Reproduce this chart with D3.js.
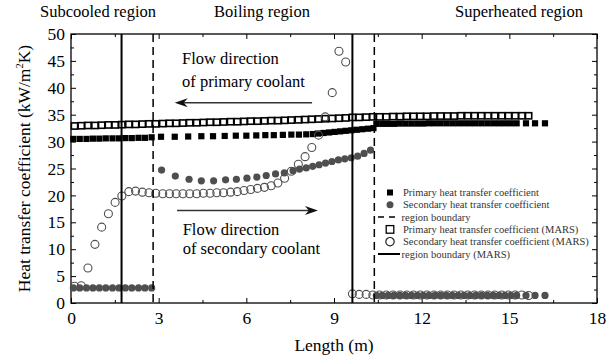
<!DOCTYPE html>
<html>
<head>
<meta charset="utf-8">
<script src="https://cdn.jsdelivr.net/npm/d3@7"></script>
<style>
  body { margin: 0; background: #fff; }
  text { font-family: "Liberation Serif", "Times New Roman", serif; }
</style>
</head>
<body>
<svg id="chart" width="610" height="360"></svg>
<script>
// ---- data ----
const xTicks = [0, 3, 6, 9, 12, 15, 18]
const xMinorTicks = [1.5, 4.5, 7.5, 10.5, 13.5, 16.5]
const yTicks = [0, 5, 10, 15, 20, 25, 30, 35, 40, 45, 50]
const yMinorTicks = [2.5, 7.5, 12.5, 17.5, 22.5, 27.5, 32.5, 37.5, 42.5, 47.5]

// code nodes, subcooled region
const subX = [0.08, 0.30, 0.53, 0.75, 0.97, 1.19, 1.42, 1.64, 1.86, 2.08, 2.31, 2.53, 2.76]
const subPrimary = [30.5, 30.5, 30.5, 30.55, 30.55, 30.6, 30.6, 30.6, 30.65, 30.65, 30.7, 30.7, 30.8]
const subSecondary = [2.8, 2.8, 2.8, 2.8, 2.8, 2.8, 2.8, 2.8, 2.8, 2.8, 2.8, 2.8, 2.8]

// code nodes, boiling region
const boilPrimaryX = [3.08, 3.55, 4.01, 4.46, 4.86, 5.26, 5.64, 6.00, 6.34, 6.65, 6.94, 7.25, 7.54, 7.80, 8.05, 8.28,
  8.45, 8.64, 8.83, 9.02, 9.21, 9.40, 9.59, 9.78, 9.97, 10.16, 10.35]
const boilPrimary = [30.9, 30.9, 30.95, 31.0, 31.0, 31.05, 31.1, 31.1, 31.15, 31.2, 31.2, 31.25, 31.3, 31.3, 31.35, 31.4,
  31.5, 31.6, 31.7, 31.8, 31.9, 32.0, 32.1, 32.2, 32.3, 32.4, 32.5]
const boilSecondaryX = [3.10, 3.57, 4.04, 4.46, 4.88, 5.29, 5.66, 6.02, 6.36, 6.68, 7.00, 7.30, 7.60, 7.82,
  8.05, 8.27, 8.49, 8.71, 8.93, 9.15, 9.37, 9.59, 9.81, 10.03, 10.25]
const boilSecondary = [24.7, 23.6, 23.0, 22.7, 22.7, 22.9, 23.0, 23.2, 23.4, 23.7, 24.0, 24.2, 24.6, 24.9,
  25.1, 25.4, 25.7, 26.0, 26.3, 26.6, 26.8, 27.0, 27.3, 27.8, 28.4]

// code nodes, superheated region
const supX = [10.45, 10.65, 10.85, 11.05, 11.25, 11.45, 11.65, 11.85, 12.05, 12.25, 12.45, 12.65, 12.85,
  13.05, 13.25, 13.45, 13.65, 13.85, 14.05, 14.25, 14.45, 14.65, 14.85, 15.05, 15.25, 15.57, 15.88, 16.22]
const supPrimary = [33.3, 33.3, 33.3, 33.3, 33.35, 33.35, 33.35, 33.35, 33.35, 33.4, 33.4, 33.4, 33.4,
  33.4, 33.4, 33.4, 33.4, 33.4, 33.4, 33.4, 33.4, 33.4, 33.4, 33.4, 33.4, 33.4, 33.4, 33.4]
const supSecondary = [1.4, 1.4, 1.4, 1.4, 1.4, 1.4, 1.4, 1.4, 1.4, 1.4, 1.4, 1.4, 1.4,
  1.4, 1.4, 1.4, 1.4, 1.4, 1.4, 1.4, 1.4, 1.4, 1.4, 1.4, 1.4, 1.4, 1.4, 1.4]

// MARS nodes
const marsX = [0.12, 0.35, 0.58, 0.82, 1.05, 1.28, 1.51, 1.74, 1.98, 2.21, 2.44, 2.67, 2.90,
  3.14, 3.37, 3.60, 3.83, 4.06, 4.30, 4.53, 4.76, 4.99, 5.22, 5.46, 5.69, 5.92,
  6.15, 6.38, 6.62, 6.85, 7.08, 7.31, 7.54, 7.78, 8.01, 8.24, 8.47, 8.70, 8.94, 9.17, 9.40,
  9.63, 9.86, 10.10, 10.33, 10.56, 10.79, 11.02, 11.26, 11.49, 11.72, 11.95, 12.18, 12.42, 12.65,
  12.88, 13.11, 13.34, 13.58, 13.81, 14.04, 14.27, 14.50, 14.74, 14.97, 15.20, 15.43, 15.66]
const marsPrimary = [32.9, 32.95, 33.0, 33.0, 33.05, 33.1, 33.1, 33.15, 33.2, 33.2, 33.25, 33.3, 33.3,
  33.35, 33.4, 33.4, 33.45, 33.5, 33.5, 33.55, 33.6, 33.6, 33.65, 33.7, 33.7, 33.75,
  33.8, 33.8, 33.85, 33.9, 33.9, 33.95, 34.0, 34.05, 34.1, 34.15, 34.2, 34.25, 34.3, 34.35, 34.4,
  34.5, 34.5, 34.55, 34.6, 34.6, 34.6, 34.65, 34.65, 34.7, 34.7, 34.7, 34.7, 34.75, 34.75,
  34.75, 34.75, 34.8, 34.8, 34.8, 34.8, 34.8, 34.8, 34.8, 34.8, 34.8, 34.8, 34.8]
const marsSecondary = [3.1, 3.2, 6.5, 10.9, 14.1, 16.6, 18.7, 19.9, 20.7, 20.8, 20.6, 20.5, 20.4,
  20.3, 20.3, 20.3, 20.3, 20.3, 20.3, 20.4, 20.4, 20.5, 20.5, 20.6, 20.7, 20.9,
  21.1, 21.3, 21.5, 21.8, 22.3, 23.2, 24.5, 25.8, 27.2, 28.9, 31.2, 34.6, 39.1, 46.8, 44.8,
  1.7, 1.6, 1.6, 1.5, 1.5, 1.5, 1.5, 1.5, 1.5, 1.5, 1.5, 1.5, 1.5, 1.5,
  1.5, 1.5, 1.5, 1.5, 1.5, 1.5, 1.5, 1.5, 1.5, 1.5, 1.5, 1.5, 1.4]

const codeBounds = [2.81, 10.38]
const marsBounds = [1.73, 9.63]

const regionLabels = [
  { text: 'Subcooled region', x: 98 },
  { text: 'Boiling region', x: 262 },
  { text: 'Superheated region', x: 519 },
]

const legendItems = [
  { kind: 'fsq', label: 'Primary heat transfer coefficient' },
  { kind: 'fci', label: 'Secondary heat transfer coefficient' },
  { kind: 'dash', label: 'region boundary' },
  { kind: 'osq', label: 'Primary heat transfer coefficient (MARS)' },
  { kind: 'oci', label: 'Secondary heat transfer coefficient (MARS)' },
  { kind: 'line', label: 'region boundary (MARS)' },
]

// ---- layout ----
const plot = { left: 71, right: 597, top: 34, bottom: 303 }
const grey = '#4f4f4f'
const svg = d3.select('#chart')

const x = d3.scaleLinear().domain([0, 18]).range([plot.left, plot.right])
const y = d3.scaleLinear().domain([0, 50]).range([plot.bottom, plot.top])

const zip = (xs, ys) => xs.map((v, i) => [v, ys[i]])

const primaryPts = [...zip(subX, subPrimary), ...zip(boilPrimaryX, boilPrimary), ...zip(supX, supPrimary)]
const secondaryPts = [...zip(subX, subSecondary), ...zip(boilSecondaryX, boilSecondary), ...zip(supX, supSecondary)]
const marsPrimaryPts = zip(marsX, marsPrimary)
const marsSecondaryPts = zip(marsX, marsSecondary)

// axes, ticks inward
const tickFont = (g) => g.selectAll('text')
  .attr('font-family', '"Liberation Serif", serif').attr('font-size', 17.5).attr('fill', '#000')

function clean(g) {
  g.select('.domain').remove()
  g.selectAll('line').attr('stroke', '#000').attr('stroke-width', 1)
}

svg.append('g').attr('transform', `translate(0,${plot.bottom})`)
  .call(d3.axisBottom(x).tickValues(xTicks).tickSize(-5).tickPadding(9).tickFormat(d3.format('d')))
  .call(clean).call(tickFont)
svg.append('g').attr('transform', `translate(0,${plot.bottom})`)
  .call(d3.axisBottom(x).tickValues(xMinorTicks).tickSize(-3).tickFormat(''))
  .call(clean)
svg.append('g').attr('transform', `translate(0,${plot.top})`)
  .call(d3.axisTop(x).tickValues(xTicks).tickSize(-5).tickFormat(''))
  .call(clean)
svg.append('g').attr('transform', `translate(0,${plot.top})`)
  .call(d3.axisTop(x).tickValues(xMinorTicks).tickSize(-3).tickFormat(''))
  .call(clean)

svg.append('g').attr('transform', `translate(${plot.left},0)`)
  .call(d3.axisLeft(y).tickValues(yTicks).tickSize(-5).tickPadding(6).tickFormat(d3.format('d')))
  .call(clean).call(tickFont)
svg.append('g').attr('transform', `translate(${plot.left},0)`)
  .call(d3.axisLeft(y).tickValues(yMinorTicks).tickSize(-3).tickFormat(''))
  .call(clean)
svg.append('g').attr('transform', `translate(${plot.right},0)`)
  .call(d3.axisRight(y).tickValues(yTicks).tickSize(-5).tickFormat(''))
  .call(clean)
svg.append('g').attr('transform', `translate(${plot.right},0)`)
  .call(d3.axisRight(y).tickValues(yMinorTicks).tickSize(-3).tickFormat(''))
  .call(clean)

svg.append('rect')
  .attr('x', plot.left).attr('y', plot.top)
  .attr('width', plot.right - plot.left).attr('height', plot.bottom - plot.top)
  .attr('fill', 'none').attr('stroke', '#000').attr('stroke-width', 1.3)

// ---- markers ----
const sq = 6.2
svg.append('g').selectAll('rect').data(primaryPts).join('rect')
  .attr('x', (d) => x(d[0]) - sq / 2).attr('y', (d) => y(d[1]) - sq / 2)
  .attr('width', sq).attr('height', sq).attr('fill', '#000')

const osq = 6.2
svg.append('g').selectAll('rect').data(marsPrimaryPts).join('rect')
  .attr('x', (d) => x(d[0]) - osq / 2).attr('y', (d) => y(d[1]) - osq / 2)
  .attr('width', osq).attr('height', osq)
  .attr('fill', '#fff').attr('stroke', '#000').attr('stroke-width', 1.6)

svg.append('g').selectAll('circle').data(secondaryPts).join('circle')
  .attr('cx', (d) => x(d[0])).attr('cy', (d) => y(d[1])).attr('r', 3.6)
  .attr('fill', grey)

svg.append('g').selectAll('circle').data(marsSecondaryPts).join('circle')
  .attr('cx', (d) => x(d[0])).attr('cy', (d) => y(d[1])).attr('r', 4)
  .attr('fill', 'none').attr('stroke', grey).attr('stroke-width', 1.1)

// ---- region boundaries ----
svg.append('g').selectAll('line').data(codeBounds).join('line')
  .attr('x1', (d) => x(d)).attr('x2', (d) => x(d)).attr('y1', plot.top).attr('y2', plot.bottom)
  .attr('stroke', '#000').attr('stroke-width', 1.5).attr('stroke-dasharray', '8,5')
svg.append('g').selectAll('line').data(marsBounds).join('line')
  .attr('x1', (d) => x(d)).attr('x2', (d) => x(d)).attr('y1', plot.top).attr('y2', plot.bottom)
  .attr('stroke', '#000').attr('stroke-width', 2)

// ---- annotations ----
function arrow(x1, x2, yv) {
  const g = svg.append('g')
  const px1 = x(x1), px2 = x(x2), py = y(yv)
  const dir = Math.sign(px2 - px1)
  g.append('line').attr('x1', px1).attr('x2', px2 - dir * 6).attr('y1', py).attr('y2', py)
    .attr('stroke', '#333').attr('stroke-width', 1.5)
  g.append('path')
    .attr('d', `M${px2},${py} L${px2 - dir * 13},${py - 4.5} L${px2 - dir * 9},${py} L${px2 - dir * 13},${py + 4.5} Z`)
    .attr('fill', '#111')
}
arrow(8.25, 3.55, 37.2)
arrow(3.63, 8.45, 17.2)

const note = svg.append('g').attr('font-size', 16.5).attr('fill', '#000')
note.append('text').attr('x', x(3.8)).attr('y', 64).text('Flow direction')
note.append('text').attr('x', x(3.8)).attr('y', 87).text('of primary coolant')
note.append('text').attr('x', x(3.82)).attr('y', 235).text('Flow direction')
note.append('text').attr('x', x(3.82)).attr('y', 254).text('of secondary coolant')

svg.append('g').selectAll('text').data(regionLabels).join('text')
  .attr('x', (d) => d.x).attr('y', 16.5).attr('text-anchor', 'middle')
  .attr('font-size', 16.5).text((d) => d.text)

// axis titles
svg.append('text').attr('x', (plot.left + plot.right) / 2).attr('y', 351).attr('text-anchor', 'middle')
  .attr('font-size', 17.5).text('Length (m)')
const yt = svg.append('text').attr('transform', `translate(30,${(plot.top + plot.bottom) / 2}) rotate(-90)`)
  .attr('text-anchor', 'middle').attr('font-size', 17.5)
yt.append('tspan').text('Heat transfer coefficient (kW/m')
yt.append('tspan').attr('font-size', 10.5).attr('dy', -7).text('2')
yt.append('tspan').attr('dy', 7).text('K)')

// ---- legend ----
const legend = svg.append('g').attr('transform', 'translate(390,192.5)')
const row = legend.selectAll('g').data(legendItems).join('g')
  .attr('transform', (d, i) => `translate(0,${i * 12.3})`)
row.each(function (d) {
  const g = d3.select(this)
  if (d.kind === 'fsq') g.append('rect').attr('x', -3).attr('y', -3).attr('width', 6).attr('height', 6).attr('fill', '#000')
  if (d.kind === 'fci') g.append('circle').attr('r', 3.5).attr('fill', grey)
  if (d.kind === 'osq') g.append('rect').attr('x', -3.8).attr('y', -3.8).attr('width', 7.6).attr('height', 7.6)
    .attr('fill', '#fff').attr('stroke', '#000').attr('stroke-width', 1.3)
  if (d.kind === 'oci') g.append('circle').attr('r', 4.2).attr('fill', '#fff').attr('stroke', '#222').attr('stroke-width', 1.2)
  if (d.kind === 'dash') g.append('line').attr('x1', -12).attr('x2', 10).attr('stroke', '#000')
    .attr('stroke-width', 1.5).attr('stroke-dasharray', '6,5')
  if (d.kind === 'line') g.append('line').attr('x1', -12).attr('x2', 10).attr('stroke', '#000').attr('stroke-width', 2)
  g.append('text').attr('x', (d.kind === 'dash' || d.kind === 'line') ? 11.5 : 13)
    .attr('y', 3.6).attr('font-size', 10.5).attr('fill', '#333').text(d.label)
})
</script>
</body>
</html>
